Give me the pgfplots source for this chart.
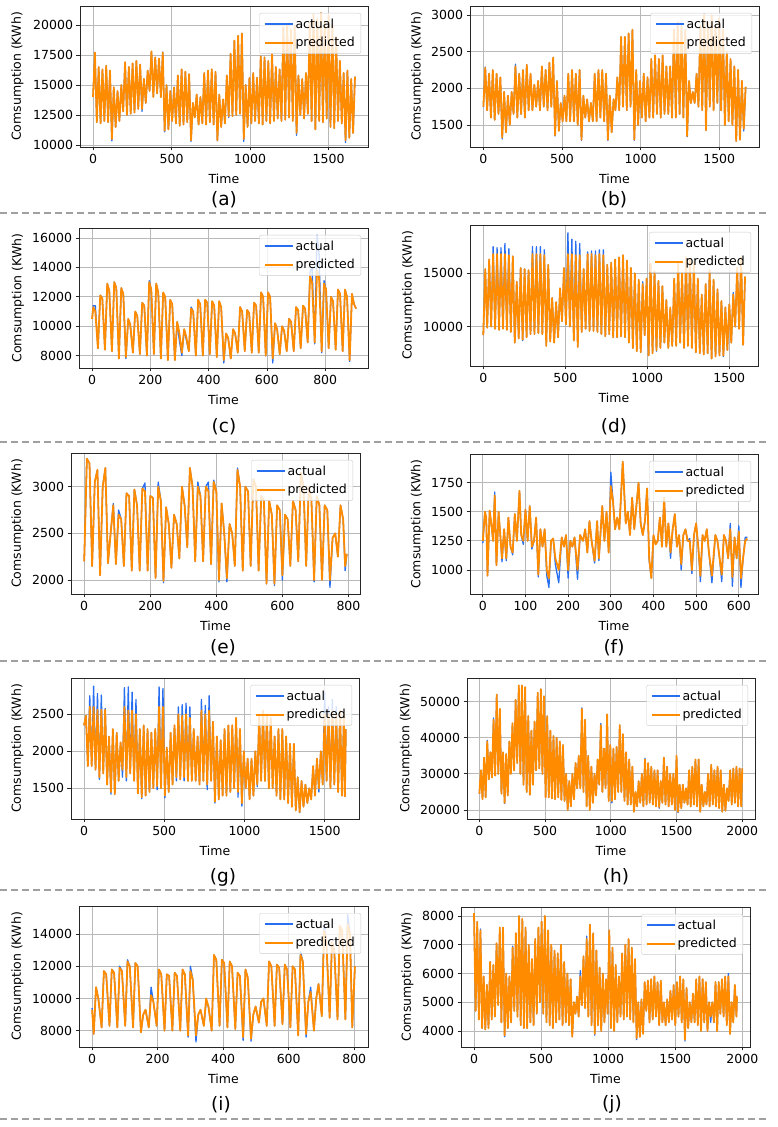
\documentclass[border=0pt]{standalone}
\usepackage{fontspec}
\setmainfont{DejaVu Sans}
\usepackage{pgfplots}
\usepackage{pgfplotstable}
\pgfplotsset{compat=1.18}

\definecolor{cblue}{RGB}{40,110,240}
\definecolor{corange}{RGB}{255,140,0}
\definecolor{sepgray}{RGB}{160,160,160}
\newcommand{\fs}{\fontsize{12.5}{15}\selectfont}
\newcommand{\capfs}{\fontsize{18.5}{22}\selectfont}

\pgfplotsset{
  panel/.style={
    scale only axis, anchor=south west,
    axis line style={draw=black!85, line width=0.8pt},
    tick align=outside, xtick pos=bottom, ytick pos=left,
    major tick length=3.5pt,
    tick style={black!85, line width=0.8pt},
    grid=major, major grid style={line width=0.8pt, draw=black!28},
    tick label style={font=\fs},
    label style={font=\fs},
    scaled ticks=false,
    /pgf/number format/1000 sep={},
    /pgf/number format/assume math mode=true,
    xlabel=Time, ylabel={Comsumption (KWh)},
    xlabel style={at={(axis description cs:0.5,-0.227)}, anchor=center},
    legend style={at={(1,1)}, anchor=north east, xshift=-7pt, yshift=-7pt,
      draw=black!20, rounded corners=2pt, fill=white, fill opacity=0.8,
      text opacity=1, font=\fs, inner xsep=4pt, inner ysep=3.5pt, row sep=3.5pt},
    legend image code/.code={\draw[#1, line width=2pt, line cap=butt] (0pt,0pt) -- (28pt,0pt);},
    legend cell align=left,
  },
  act/.style={draw=cblue, line width=1.3pt, line join=round},
  pre/.style={draw=corange, line width=1.8pt, line join=round},
}

% (a)
\pgfplotstableread[row sep=\\]{
x a p\\
0 14000 14000\\ 12 17700 17700\\ 24 11900 11900\\ 36 16500 16500\\
48 11800 11800\\ 60 16300 16300\\ 72 12000 12000\\ 84 16600 16600\\
96 11900 11900\\ 108 16200 16200\\ 120 10350 10500\\ 132 14800 14800\\
144 11500 11500\\ 156 14500 14500\\ 168 12000 12000\\ 180 15000 15000\\
192 12800 12800\\ 204 16900 16900\\ 216 12500 12500\\ 228 16500 16500\\
240 12600 12600\\ 252 16800 16800\\ 264 12700 12700\\ 276 17000 17000\\
288 13000 13000\\ 300 16700 16700\\ 312 12800 13000\\ 324 15500 15500\\
336 13500 13500\\ 348 16200 16200\\ 360 14500 14500\\ 372 17800 17800\\
384 14000 14000\\ 396 17300 17300\\ 408 14300 14300\\ 420 17200 17200\\
432 14000 14000\\ 444 17750 17700\\ 456 11100 11200\\ 468 15000 15000\\
480 11300 11300\\ 492 14500 14500\\ 504 12000 12000\\ 516 14800 14800\\
528 11800 11800\\ 540 15800 15800\\ 552 11600 11600\\ 564 16300 16300\\
576 11700 11700\\ 588 16100 16100\\ 600 11900 11900\\ 612 15900 15900\\
624 10300 10400\\ 636 13500 13500\\ 648 12300 12300\\ 660 14200 14200\\
672 11700 11700\\ 684 14000 14000\\ 696 11800 11800\\ 708 16000 16000\\
720 11700 11700\\ 732 16200 16200\\ 744 11900 11900\\ 756 16300 16300\\
768 11700 11700\\ 780 16100 16100\\ 792 10350 10400\\ 804 14200 14200\\
816 11500 11500\\ 828 13800 13800\\ 840 11800 11800\\ 852 15800 15800\\
864 12300 12400\\ 876 17600 17600\\ 888 12400 12400\\ 900 18700 18700\\
912 12500 12500\\ 924 19100 19100\\ 936 12600 12600\\ 948 19300 19300\\
960 10300 10500\\ 972 15000 15000\\ 984 11500 11500\\ 996 15600 15600\\
1008 11800 11800\\ 1020 16000 16000\\ 1032 12000 12000\\ 1044 15600 15600\\
1056 11800 11800\\ 1068 17400 17400\\ 1080 11700 11700\\ 1092 17300 17300\\
1104 12000 12000\\ 1116 17000 17000\\ 1128 11800 11800\\ 1140 17600 17600\\
1152 12000 12000\\ 1164 16500 16500\\ 1176 12200 12200\\ 1188 16300 16300\\
1200 12000 12000\\ 1212 19800 19800\\ 1224 12100 12100\\ 1236 20000 20000\\
1248 12300 12300\\ 1260 19600 19600\\ 1272 12000 12000\\ 1284 19900 19900\\
1296 10800 11000\\ 1308 15800 15800\\ 1320 12500 12500\\ 1332 15500 15500\\
1344 12200 12200\\ 1356 16000 16000\\ 1368 12600 12600\\ 1380 20200 20200\\
1392 12000 12000\\ 1404 20900 20900\\ 1416 11300 11300\\ 1428 20500 20500\\
1440 12000 12000\\ 1452 21000 21000\\ 1464 11900 11900\\ 1476 20300 20300\\
1488 12200 12200\\ 1500 20800 20800\\ 1512 11500 11500\\ 1524 20000 20000\\
1536 11400 11400\\ 1548 19000 19000\\ 1560 12000 12000\\ 1572 17000 17000\\
1584 11800 11800\\ 1596 16000 16000\\ 1608 10200 10400\\ 1620 16200 16200\\
1632 10600 10600\\ 1644 15500 15500\\ 1656 11000 11000\\ 1668 15700 15700\\
}\tA

% (b)
\pgfplotstableread[row sep=\\]{
x a p\\
0 1750 1750\\ 12 2290 2280\\ 24 1700 1700\\ 36 2200 2200\\
48 1600 1600\\ 60 2250 2250\\ 72 1570 1570\\ 84 2200 2200\\
96 1650 1650\\ 108 2150 2150\\ 120 1310 1330\\ 132 1950 1950\\
144 1400 1400\\ 156 1900 1900\\ 168 1500 1500\\ 180 1950 1950\\
192 1650 1650\\ 204 2330 2300\\ 216 1600 1600\\ 228 2200 2200\\
240 1650 1650\\ 252 2250 2250\\ 264 1600 1600\\ 276 2320 2320\\
288 1700 1700\\ 300 2200 2200\\ 312 1700 1700\\ 324 2050 2050\\
336 1750 1750\\ 348 2100 2100\\ 360 1700 1700\\ 372 2300 2300\\
384 1750 1750\\ 396 2250 2250\\ 408 1700 1700\\ 420 2350 2350\\
432 1750 1750\\ 444 2420 2420\\ 456 1350 1360\\ 468 2100 2100\\
480 1420 1420\\ 492 1800 1800\\ 504 1550 1550\\ 516 1900 1900\\
528 1550 1550\\ 540 2200 2200\\ 552 1550 1550\\ 564 2250 2250\\
576 1550 1550\\ 588 2200 2200\\ 600 1500 1500\\ 612 2250 2250\\
624 1290 1300\\ 636 1900 1900\\ 648 1600 1600\\ 660 1850 1850\\
672 1550 1550\\ 684 1800 1800\\ 696 1550 1550\\ 708 2200 2200\\
720 1550 1550\\ 732 2250 2250\\ 744 1600 1600\\ 756 2250 2250\\
768 1550 1550\\ 780 2200 2200\\ 792 1290 1300\\ 804 1900 1900\\
816 1400 1400\\ 828 1850 1850\\ 840 1700 1700\\ 852 2150 2150\\
864 1700 1700\\ 876 2700 2700\\ 888 1750 1750\\ 900 2700 2700\\
912 1700 1700\\ 924 2750 2750\\ 936 1750 1750\\ 948 2800 2800\\
960 1290 1300\\ 972 2250 2250\\ 984 1500 1500\\ 996 2100 2100\\
1008 1600 1600\\ 1020 2200 2200\\ 1032 1550 1550\\ 1044 2150 2150\\
1056 1600 1600\\ 1068 2400 2400\\ 1080 1600 1600\\ 1092 2450 2450\\
1104 1650 1650\\ 1116 2400 2400\\ 1128 1600 1600\\ 1140 2450 2450\\
1152 1650 1650\\ 1164 2300 2300\\ 1176 1650 1650\\ 1188 2300 2300\\
1200 1600 1600\\ 1212 2800 2800\\ 1224 1600 1600\\ 1236 2900 2900\\
1248 1650 1650\\ 1260 2850 2850\\ 1272 1600 1600\\ 1284 2800 2800\\
1296 1340 1350\\ 1308 2100 2100\\ 1320 1800 1800\\ 1332 1950 1950\\
1344 1800 1800\\ 1356 2200 2200\\ 1368 1750 1750\\ 1380 2850 2850\\
1392 1700 1700\\ 1404 3020 3000\\ 1416 1430 1430\\ 1428 2900 2900\\
1440 1750 1750\\ 1452 3000 3000\\ 1464 1700 1700\\ 1476 2850 2850\\
1488 1800 1800\\ 1500 2950 2950\\ 1512 1700 1700\\ 1524 2800 2800\\
1536 1500 1500\\ 1548 2500 2500\\ 1560 1550 1550\\ 1572 2400 2400\\
1584 1500 1500\\ 1596 2300 2300\\ 1608 1280 1280\\ 1620 2250 2250\\
1632 1300 1300\\ 1644 2100 2100\\ 1656 1420 1450\\ 1668 2020 2020\\
}\tB

% (c)
\pgfplotstableread[row sep=\\]{
x a p\\
0 10500 10500\\ 4 11400 11300\\ 11 11400 11000\\
20 8500 8500\\ 28 12100 12100\\ 35 11900 11900\\
44 8400 8400\\ 52 12900 12900\\ 59 12400 12400\\
68 8300 8300\\ 76 13000 13000\\ 83 12600 12600\\
92 7800 7800\\ 100 12600 12600\\ 107 12200 12200\\
116 7800 7900\\ 124 10500 10500\\ 131 10100 10100\\
140 8200 8200\\ 148 11000 11000\\ 155 10700 10700\\
164 8100 8100\\ 172 11600 11600\\ 179 11400 11400\\
188 8000 8000\\ 196 13100 13000\\ 203 12500 12500\\
212 8100 8100\\ 220 12900 12900\\ 227 12300 12300\\
236 7800 7800\\ 244 12300 12300\\ 251 11900 12000\\
260 7700 7700\\ 268 11800 11800\\ 275 11500 11500\\
284 7700 7700\\ 292 10300 10300\\ 299 9100 9600\\
308 8000 8200\\ 316 9800 9800\\ 323 9100 9300\\
332 8300 8300\\ 340 11300 11200\\ 347 11000 11000\\
356 8000 8000\\ 364 11800 11800\\ 371 11500 11500\\
380 8000 8000\\ 388 11800 11800\\ 395 11600 11600\\
404 8100 8100\\ 412 11700 11700\\ 419 11400 11400\\
428 7900 7900\\ 436 11700 11700\\ 443 11300 11300\\
452 7500 7700\\ 460 9500 9500\\ 467 9200 9200\\
476 7800 7800\\ 484 9800 9800\\ 491 9500 9500\\
500 8200 8200\\ 508 11300 11300\\ 515 11000 11000\\
524 8300 8300\\ 532 11100 11100\\ 539 10900 10900\\
548 8200 8200\\ 556 11600 11600\\ 563 11400 11400\\
572 8200 8200\\ 580 12300 12300\\ 587 12000 12000\\
596 8000 8000\\ 604 12300 12300\\ 611 12000 12000\\
620 7500 7800\\ 628 10200 10200\\ 635 9800 9800\\
644 8100 8100\\ 652 10000 10000\\ 659 9700 9700\\
668 8300 8300\\ 676 10500 10500\\ 683 10300 10300\\
692 8300 8300\\ 700 11300 11300\\ 707 11100 11100\\
716 8500 8500\\ 724 11400 11400\\ 731 11200 11200\\
740 8900 8900\\ 748 13700 13400\\ 755 14000 13000\\
764 8800 8900\\ 772 16200 13800\\ 779 15000 13300\\
788 8200 8300\\ 796 13100 12900\\ 803 12500 12500\\
812 8500 8500\\ 820 12000 12000\\ 827 11700 11700\\
836 8400 8400\\ 844 12500 12500\\ 851 12200 12200\\
860 8300 8300\\ 868 12500 12500\\ 875 12000 12000\\
884 7600 7700\\ 892 12200 12200\\ 899 11500 11500\\
906 11200 11200\\
}\tC

% (d)
\pgfplotstableread[row sep=\\]{
x a p\\
0 9200 9200\\ 12 15400 15400\\ 24 9900 9900\\ 36 16300 16300\\
48 10000 10000\\ 60 17500 16800\\ 72 9800 9800\\ 84 17400 16800\\
96 9700 9700\\ 108 17400 16800\\ 120 9800 9800\\ 132 17800 16800\\
144 9700 9700\\ 156 17300 16700\\ 168 9500 9500\\ 180 16600 16600\\
192 8500 8500\\ 204 14200 14200\\ 216 8900 8900\\ 228 15500 15500\\
240 8700 8800\\ 252 15400 15400\\ 264 9000 9000\\ 276 15300 15300\\
288 9300 9300\\ 300 17500 16800\\ 312 9300 9300\\ 324 17500 16800\\
336 9400 9400\\ 348 17500 16800\\ 360 9300 9300\\ 372 17200 16700\\
384 8200 8200\\ 396 15800 15800\\ 408 8600 8600\\ 420 12700 12700\\
432 8500 8500\\ 444 12300 12300\\ 456 9000 9000\\ 468 13600 13600\\
480 10500 10500\\ 492 15500 15500\\ 504 10200 10200\\ 516 18800 16800\\
528 10000 10000\\ 540 18200 16800\\ 552 8700 8700\\ 564 18000 16700\\
576 8100 8100\\ 588 17800 16700\\ 600 9500 9500\\ 612 15400 15400\\
624 9800 9800\\ 636 17000 16800\\ 648 9600 9600\\ 660 17100 16800\\
672 9600 9600\\ 684 17100 16700\\ 696 9500 9500\\ 708 17200 16800\\
720 9300 9300\\ 732 17200 16700\\ 744 9100 9100\\ 756 15800 15800\\
768 9300 9300\\ 780 16000 16000\\ 792 9000 9000\\ 804 16300 16300\\
816 9000 9000\\ 828 16500 16500\\ 840 9100 9100\\ 852 16700 16700\\
864 9000 9000\\ 876 16200 16200\\ 888 8500 8500\\ 900 15500 15500\\
912 8000 8000\\ 924 15000 15000\\ 936 7700 7700\\ 948 14400 14400\\
960 7600 7600\\ 972 14200 14000\\ 984 9200 9200\\ 996 14500 14500\\
1008 7300 7300\\ 1020 15900 15900\\ 1032 7500 7500\\ 1044 15200 15200\\
1056 7700 7800\\ 1068 14300 14300\\ 1080 8000 8000\\ 1092 13800 13800\\
1104 8500 8500\\ 1116 12500 12500\\ 1128 8000 8000\\ 1140 11600 11800\\
1152 8200 8200\\ 1164 14500 14500\\ 1176 8200 8200\\ 1188 16000 16000\\
1200 8500 8500\\ 1212 15000 15000\\ 1224 8000 8000\\ 1236 16500 16500\\
1248 8200 8200\\ 1260 16300 16300\\ 1272 8000 8000\\ 1284 16000 16000\\
1296 7600 7600\\ 1308 14500 14500\\ 1320 7500 7500\\ 1332 13000 13000\\
1344 7400 7400\\ 1356 14000 14000\\ 1368 7500 7500\\ 1380 15300 15300\\
1392 7000 7000\\ 1404 14400 14400\\ 1416 7200 7200\\ 1428 13500 13500\\
1440 7300 7300\\ 1452 12400 12400\\ 1464 7200 7300\\ 1476 11800 11800\\
1488 7800 7800\\ 1500 12100 12100\\ 1512 8500 8500\\ 1524 13200 13000\\
1536 10000 10000\\ 1548 15500 15500\\ 1560 9800 9800\\ 1572 16500 16500\\
1584 8300 8300\\ 1596 14700 14700\\
}\tD

% (e)
\pgfplotstableread[row sep=\\]{
x a p\\
0 2200 2200\\ 8 3300 3300\\ 16 3250 3250\\
24 2150 2150\\ 32 3050 3050\\ 40 3180 3180\\
48 2050 2050\\ 56 3000 3000\\ 64 3200 3200\\
72 2180 2180\\ 80 2500 2500\\ 88 2820 2800\\
96 2170 2170\\ 104 2750 2700\\ 112 2650 2650\\
120 2150 2150\\ 128 2930 2930\\ 136 2900 2900\\
144 2100 2100\\ 152 2970 2970\\ 160 2800 2800\\
168 2100 2100\\ 176 2980 2980\\ 184 3040 2950\\
192 2100 2100\\ 200 2900 2900\\ 208 2880 2880\\
216 2020 2020\\ 224 3050 3000\\ 232 2850 2850\\
240 1970 1990\\ 248 2780 2780\\ 256 2600 2600\\
264 2130 2130\\ 272 2700 2700\\ 280 2600 2600\\
288 2230 2230\\ 296 3000 3000\\ 304 2800 2800\\
312 2350 2350\\ 320 3200 3200\\ 328 3000 3000\\
336 2200 2200\\ 344 3050 3000\\ 352 2900 2900\\
360 2200 2200\\ 368 3000 3000\\ 376 3050 2950\\
384 2170 2170\\ 392 3070 3050\\ 400 2950 2950\\
408 1980 2000\\ 416 2820 2820\\ 424 2500 2500\\
432 1980 2020\\ 440 2600 2600\\ 448 2500 2500\\
456 2150 2150\\ 464 3200 3180\\ 472 3000 3000\\
480 2100 2100\\ 488 3000 3000\\ 496 2950 2950\\
504 2150 2150\\ 512 3080 3080\\ 520 3000 3000\\
528 2100 2100\\ 536 2900 2900\\ 544 2850 2850\\
552 1960 1960\\ 560 2850 2850\\ 568 2700 2700\\
576 1940 1960\\ 584 2800 2800\\ 592 2750 2750\\
600 2000 2050\\ 608 2700 2700\\ 616 2650 2650\\
624 2150 2150\\ 632 2850 2850\\ 640 2750 2750\\
648 2200 2200\\ 656 3150 3150\\ 664 3000 3000\\
672 2150 2150\\ 680 3000 3000\\ 688 2850 2850\\
696 1980 2000\\ 704 2900 2900\\ 712 2800 2800\\
720 2000 2000\\ 728 2800 2800\\ 736 2750 2750\\
744 1920 2000\\ 752 2450 2450\\ 760 2500 2500\\
768 2250 2250\\ 776 2800 2800\\ 784 2650 2650\\
790 2100 2150\\ 795 2280 2280\\
}\tE

% (f)
\pgfplotstableread[row sep=\\]{
x a p\\
0 1230 1250\\ 5 1500 1500\\ 8 1450 1450\\ 11 950 950\\ 16 1500 1510\\
20 1400 1400\\ 24 1250 1250\\ 28 1670 1640\\ 32 1040 1040\\ 37 1500 1500\\
41 1300 1300\\ 45 1070 1100\\ 50 1350 1350\\ 55 1080 1100\\ 60 1450 1450\\
65 1200 1200\\ 70 1130 1150\\ 75 1480 1480\\ 80 1250 1250\\ 86 1680 1680\\
90 1300 1300\\ 95 1220 1250\\ 100 1520 1520\\ 105 1250 1250\\ 110 1550 1550\\
115 1180 1200\\ 120 1250 1250\\ 125 1450 1450\\ 130 940 960\\ 135 1350 1350\\
140 1200 1200\\ 145 1350 1350\\ 150 950 1000\\ 155 850 930\\ 160 1250 1250\\
165 1270 1270\\ 170 1050 1100\\ 178 890 1000\\ 185 1280 1280\\ 190 1200 1200\\
195 1300 1300\\ 200 930 1000\\ 205 1250 1250\\ 210 1200 1200\\ 215 1280 1280\\
222 920 1000\\ 228 1300 1300\\ 235 1250 1250\\ 240 1350 1350\\ 245 1150 1150\\
250 1420 1420\\ 255 1250 1250\\ 262 1060 1080\\ 268 1420 1420\\ 272 1080 1100\\
280 1550 1550\\ 285 1250 1250\\ 290 1500 1500\\ 295 1150 1150\\ 300 1840 1720\\
305 1600 1600\\ 310 1350 1350\\ 315 1450 1450\\ 320 1350 1350\\ 328 1930 1930\\
335 1400 1400\\ 340 1500 1500\\ 345 1300 1300\\ 350 1620 1620\\ 355 1350 1350\\
360 1550 1550\\ 365 1750 1750\\ 370 1400 1400\\ 375 1300 1300\\ 380 1420 1420\\
385 1700 1700\\ 390 1080 1100\\ 395 930 930\\ 400 1300 1300\\ 405 1220 1220\\
410 1250 1250\\ 415 1450 1450\\ 420 1200 1200\\ 425 1620 1620\\ 430 1200 1200\\
435 1400 1400\\ 440 1100 1150\\ 445 1350 1350\\ 450 1480 1480\\ 455 1200 1200\\
460 1300 1300\\ 465 1000 1050\\ 470 1300 1300\\ 475 1350 1350\\ 480 1250 1250\\
485 1270 1250\\ 490 970 1000\\ 495 1300 1300\\ 500 1400 1400\\ 505 1200 1200\\
510 900 950\\ 515 1300 1300\\ 520 1250 1250\\ 525 1350 1350\\ 530 1150 1150\\
537 890 950\\ 545 1300 1300\\ 550 1250 1250\\ 555 1100 1100\\ 560 900 960\\
565 1300 1300\\ 570 1250 1250\\ 575 1100 1100\\ 580 1400 1350\\ 585 860 940\\
590 1280 1280\\ 595 1100 1100\\ 600 1380 1330\\ 605 850 930\\ 610 1100 1100\\
615 1280 1250\\ 620 1280 1270\\
}\tF

% (g)
\pgfplotstableread[row sep=\\]{
x a p\\
0 2350 2350\\ 12 2480 2480\\ 24 1800 1800\\ 36 2750 2600\\
48 1800 1800\\ 60 2880 2600\\ 72 1750 1750\\ 84 2780 2560\\
96 1620 1650\\ 108 2760 2560\\ 120 1700 1700\\ 132 2580 2560\\
144 1550 1550\\ 156 2200 2200\\ 168 1420 1450\\ 180 2300 2300\\
192 1420 1420\\ 204 2250 2250\\ 216 1600 1600\\ 228 2120 2120\\
240 1650 1750\\ 252 2860 2600\\ 264 1600 1650\\ 276 2870 2550\\
288 1700 1700\\ 300 2800 2550\\ 312 1600 1600\\ 324 2700 2500\\
336 1430 1430\\ 348 2300 2300\\ 360 1360 1380\\ 372 2350 2350\\
384 1400 1400\\ 396 2300 2300\\ 408 1450 1450\\ 420 2250 2250\\
432 1500 1500\\ 444 2300 2300\\ 456 1480 1530\\ 468 2870 2600\\
480 1500 1500\\ 492 2850 2600\\ 504 1370 1400\\ 516 2050 2050\\
528 1450 1450\\ 540 2250 2250\\ 552 1550 1550\\ 564 2350 2350\\
576 1600 1650\\ 588 2600 2500\\ 600 1620 1620\\ 612 2630 2480\\
624 1600 1650\\ 636 2650 2500\\ 648 1600 1600\\ 660 2600 2450\\
672 1600 1600\\ 684 2300 2300\\ 696 1600 1600\\ 708 2200 2200\\
720 1550 1550\\ 732 2700 2550\\ 744 1600 1600\\ 756 2620 2500\\
768 1480 1550\\ 780 2750 2550\\ 792 1600 1600\\ 804 2400 2400\\
816 1300 1320\\ 828 2200 2200\\ 840 1350 1350\\ 852 2150 2150\\
864 1400 1400\\ 876 2300 2300\\ 888 1400 1400\\ 900 2350 2350\\
912 1450 1450\\ 924 2350 2350\\ 936 1500 1500\\ 948 2450 2450\\
960 1380 1450\\ 972 2300 2300\\ 984 1260 1300\\ 996 2000 2000\\
1008 1500 1500\\ 1020 1900 1900\\ 1032 1350 1350\\ 1044 1900 1900\\
1056 1400 1400\\ 1068 2000 2000\\ 1080 1520 1550\\ 1092 2500 2500\\
1104 1600 1600\\ 1116 2550 2550\\ 1128 1600 1600\\ 1140 2500 2500\\
1152 1500 1500\\ 1164 2450 2450\\ 1176 1500 1500\\ 1188 2200 2200\\
1200 1400 1400\\ 1212 2300 2300\\ 1224 1350 1350\\ 1236 2300 2300\\
1248 1350 1350\\ 1260 2200 2200\\ 1272 1300 1300\\ 1284 2100 2100\\
1296 1250 1250\\ 1308 2100 2100\\ 1320 1200 1200\\ 1332 1650 1650\\
1344 1170 1180\\ 1356 1600 1600\\ 1368 1250 1250\\ 1380 1550 1550\\
1392 1300 1300\\ 1404 1500 1500\\ 1416 1350 1350\\ 1428 1800 1800\\
1440 1400 1400\\ 1452 1900 1900\\ 1464 1450 1500\\ 1476 2000 2000\\
1488 1550 1550\\ 1500 2800 2500\\ 1512 1600 1600\\ 1524 2600 2500\\
1536 1500 1500\\ 1548 2700 2550\\ 1560 1550 1550\\ 1572 2600 2500\\
1584 1450 1450\\ 1596 2550 2550\\ 1608 1400 1400\\ 1620 2500 2500\\
1626 1390 1390\\ 1632 2300 2300\\
}\tG

% (h)
\pgfplotstableread[row sep=\\]{
x a p\\
0 24500 24500\\ 12 31000 31000\\ 24 23000 23000\\ 36 34500 34500\\
48 23500 23500\\ 60 39300 39000\\ 72 28500 28500\\ 84 36000 36000\\
96 29000 29000\\ 108 45500 45000\\ 120 29500 29500\\ 132 52000 52000\\
144 30000 30000\\ 156 48000 48000\\ 168 24500 24500\\ 180 36000 36000\\
192 21800 22000\\ 204 35500 35500\\ 216 24000 24000\\ 228 39000 39000\\
240 30000 30000\\ 252 44000 44000\\ 264 31000 31000\\ 276 50500 50500\\
288 33000 33000\\ 300 54500 54500\\ 312 30000 30000\\ 324 54500 54500\\
336 27000 27000\\ 348 54000 54000\\ 360 25000 25000\\ 372 46000 46000\\
384 24200 24200\\ 396 42000 42000\\ 408 27000 27000\\ 420 44500 44500\\
432 31000 31000\\ 444 52500 52500\\ 456 31500 31500\\ 468 53500 53500\\
480 30000 30000\\ 492 51500 51500\\ 504 23500 23500\\ 516 46000 46000\\
528 23500 23500\\ 540 42000 42000\\ 552 23200 23200\\ 564 40500 40500\\
576 23000 23000\\ 588 40000 40000\\ 600 23500 23500\\ 612 39000 39000\\
624 22800 22800\\ 636 38000 38000\\ 648 22500 22500\\ 660 30000 30000\\
672 20000 20000\\ 684 28000 28000\\ 696 21000 21000\\ 708 30000 30000\\
720 23000 23000\\ 732 33000 33000\\ 744 26000 26000\\ 756 35000 35000\\
768 26000 26000\\ 780 48300 48000\\ 792 25000 25000\\ 804 45000 45000\\
816 21000 21000\\ 828 35000 35000\\ 840 20000 20000\\ 852 32000 32000\\
864 22000 22000\\ 876 30000 30000\\ 888 24000 24000\\ 900 34000 34000\\
912 27000 27000\\ 924 44000 43500\\ 936 25000 25000\\ 948 37000 37000\\
960 26000 26000\\ 972 46500 46500\\ 984 22500 22500\\ 996 38000 38000\\
1008 22000 22500\\ 1020 37000 37000\\ 1032 23000 23000\\ 1044 37500 37500\\
1056 25000 25000\\ 1068 43500 43500\\ 1080 25000 25000\\ 1092 41000 41000\\
1104 22500 22500\\ 1116 36000 36000\\ 1128 21500 21500\\ 1140 34000 34000\\
1152 21500 21500\\ 1164 32000 32000\\ 1176 19500 19500\\ 1188 25000 25000\\
1200 21000 21000\\ 1212 28000 28000\\ 1224 22000 22000\\ 1236 30000 30000\\
1248 21000 21000\\ 1260 34300 34000\\ 1272 21500 21500\\ 1284 33000 33000\\
1296 22000 22000\\ 1308 32000 32000\\ 1320 21500 21500\\ 1332 31000 31000\\
1344 21000 21000\\ 1356 31000 31000\\ 1368 20500 20800\\ 1380 28000 28000\\
1392 22000 22000\\ 1404 34500 34500\\ 1416 21500 21500\\ 1428 32000 32000\\
1440 21000 21000\\ 1452 30000 30000\\ 1464 21500 21500\\ 1476 30000 30000\\
1488 20000 20000\\ 1500 35000 35000\\ 1512 19300 19500\\ 1524 27000 27000\\
1536 20500 20500\\ 1548 27000 27000\\ 1560 22000 22000\\ 1572 26000 26000\\
1584 21500 21500\\ 1596 31000 31000\\ 1608 21000 21000\\ 1620 32000 32000\\
1632 21500 21500\\ 1644 34000 34000\\ 1656 21000 21000\\ 1668 34000 34000\\
1680 19500 19500\\ 1692 27000 27000\\ 1704 21000 21000\\ 1716 25000 25000\\
1728 21500 21500\\ 1740 30000 30000\\ 1752 21000 21000\\ 1764 32500 32500\\
1776 21500 21500\\ 1788 31000 31000\\ 1800 21000 21000\\ 1812 32000 32000\\
1824 20500 20500\\ 1836 31000 31000\\ 1848 19500 19500\\ 1860 27000 27000\\
1872 19800 19800\\ 1884 26000 26000\\ 1896 22500 22500\\ 1908 31000 31000\\
1920 21500 21500\\ 1932 31500 31500\\ 1944 22000 22000\\ 1956 32000 32000\\
1968 21000 21000\\ 1980 31500 31500\\ 1992 21000 21000\\ 2000 31500 31500\\
}\tH

% (i)
\pgfplotstableread[row sep=\\]{
x a p\\
0 9400 9300\\ 5 7800 7800\\ 12 10700 10700\\ 19 10000 10000\\
29 8200 8200\\ 36 11700 11700\\ 43 11500 11500\\
53 8300 8300\\ 60 11800 11800\\ 67 11600 11600\\
77 8200 8200\\ 84 12000 11900\\ 91 11700 11700\\
101 8300 8300\\ 108 12400 12300\\ 115 12000 12000\\
125 8200 8200\\ 132 12200 12200\\ 139 12000 12000\\
149 7900 7900\\ 156 9000 9000\\ 163 9300 9300\\
173 8200 8200\\ 180 10700 10200\\ 187 9800 9800\\
197 8300 8300\\ 204 11800 11800\\ 211 11500 11500\\
221 8000 8000\\ 228 11500 11500\\ 235 11400 11400\\
245 8000 8000\\ 252 11600 11600\\ 259 11400 11400\\
269 8000 8000\\ 276 11800 11800\\ 283 11500 11500\\
293 7600 7700\\ 300 12000 11700\\ 307 11200 11200\\
317 7300 7700\\ 324 9000 9000\\ 331 9300 9300\\
341 8300 8300\\ 348 9800 10000\\ 355 9500 9500\\
365 8000 8000\\ 372 12700 12700\\ 379 12400 12400\\
389 8300 8300\\ 396 12400 12400\\ 403 12200 12200\\
413 8200 8200\\ 420 12300 12300\\ 427 12000 12000\\
437 8100 8100\\ 444 11600 11600\\ 451 11400 11400\\
461 7400 7600\\ 468 11800 11800\\ 475 11300 11300\\
485 7350 7500\\ 492 9000 9000\\ 499 9500 9500\\
509 8500 8500\\ 516 9800 9800\\ 523 10000 10000\\
533 8300 8300\\ 540 12300 12300\\ 547 12000 12000\\
557 8300 8300\\ 564 12100 12100\\ 571 11900 11900\\
581 8400 8400\\ 588 12100 12100\\ 595 11800 11800\\
605 8200 8200\\ 612 12000 12000\\ 619 11800 11800\\
629 7700 7700\\ 636 12900 12700\\ 643 12300 12300\\
653 7600 7800\\ 660 9800 9800\\ 667 10700 10400\\
677 8000 8000\\ 684 10000 10000\\ 691 10900 10900\\
701 8900 8900\\ 708 14500 14200\\ 715 13500 13500\\
725 8800 8800\\ 732 13500 13500\\ 739 13000 13000\\
749 8700 8700\\ 756 14500 14500\\ 763 14200 14200\\
773 8700 8700\\ 780 15200 14600\\ 787 14000 14000\\
794 8200 8200\\ 802 12000 12000\\
}\tI

% (j)
\pgfplotstableread[row sep=\\]{
x a p\\
0 8100 8100\\ 12 4700 4700\\ 24 7800 7800\\ 36 4400 4400\\
48 7550 7500\\ 60 4100 4100\\ 72 5900 5900\\ 84 4050 4050\\
96 5600 5600\\ 108 4100 4100\\ 120 6400 6400\\ 132 4400 4400\\
144 6300 6300\\ 156 4500 4500\\ 168 7050 7050\\ 180 4900 4900\\
192 7600 7600\\ 204 4300 4300\\ 216 7600 7600\\ 228 3800 3850\\
240 6000 6000\\ 252 4100 4100\\ 264 5900 5900\\ 276 4300 4300\\
288 6950 6900\\ 300 4700 4700\\ 312 7400 7400\\ 324 4500 4500\\
336 8000 8000\\ 348 4200 4200\\ 360 7900 7900\\ 372 4100 4100\\
384 7600 7600\\ 396 4100 4100\\ 408 7000 7000\\ 420 4300 4300\\
432 6500 6500\\ 444 4200 4200\\ 456 7200 7200\\ 468 4600 4600\\
480 7600 7600\\ 492 5050 5000\\ 504 7800 7800\\ 516 4600 4600\\
528 8000 8000\\ 540 4300 4300\\ 552 7500 7500\\ 564 4200 4200\\
576 7000 7000\\ 588 4100 4100\\ 600 6800 6800\\ 612 4300 4300\\
624 6700 6700\\ 636 4400 4400\\ 648 7000 7000\\ 660 4200 4200\\
672 6400 6400\\ 684 4300 4300\\ 696 6000 6000\\ 708 4200 4200\\
720 5800 5800\\ 732 3800 3800\\ 744 5000 5000\\ 756 4600 4600\\
768 5200 5200\\ 780 4500 4500\\ 792 6100 5900\\ 804 4900 4900\\
816 6600 6600\\ 828 4800 4800\\ 840 7300 7200\\ 852 4500 4500\\
864 7700 7700\\ 876 4200 4200\\ 888 7400 7400\\ 900 3850 3900\\
912 6800 6800\\ 924 4200 4200\\ 936 6200 6200\\ 948 4000 4000\\
960 6000 6000\\ 972 4300 4300\\ 984 5800 5800\\ 996 4600 4600\\
1008 7500 7500\\ 1020 4100 4100\\ 1032 6900 6900\\ 1044 4000 4000\\
1056 6300 6300\\ 1068 4300 4300\\ 1080 5900 5900\\ 1092 4500 4500\\
1104 6700 6700\\ 1116 4400 4400\\ 1128 7000 7000\\ 1140 4500 4500\\
1152 7200 7200\\ 1164 4400 4400\\ 1176 6900 6900\\ 1188 4300 4300\\
1200 6500 6500\\ 1212 3700 3750\\ 1224 5000 5000\\ 1236 3800 3800\\
1248 5100 5100\\ 1260 3900 3900\\ 1272 5700 5700\\ 1284 4700 4700\\
1296 5750 5750\\ 1308 4300 4300\\ 1320 5800 5800\\ 1332 4400 4400\\
1344 5900 5900\\ 1356 4500 4500\\ 1368 5700 5700\\ 1380 4200 4200\\
1392 5750 5750\\ 1404 4300 4300\\ 1416 5000 5000\\ 1428 4200 4200\\
1440 5100 5100\\ 1452 4300 4300\\ 1464 5400 5400\\ 1476 4400 4400\\
1488 5600 5600\\ 1500 4200 4200\\ 1512 5700 5700\\ 1524 4500 4500\\
1536 5900 5900\\ 1548 4300 4300\\ 1560 5800 5800\\ 1572 3650 3700\\
1584 5500 5500\\ 1596 4100 4100\\ 1608 5000 5000\\ 1620 4300 4300\\
1632 5300 5300\\ 1644 4300 4300\\ 1656 5800 5800\\ 1668 4200 4200\\
1680 5900 5900\\ 1692 4000 4000\\ 1704 5800 5800\\ 1716 4300 4300\\
1728 5700 5700\\ 1740 4000 4000\\ 1752 5000 5000\\ 1764 4300 4500\\
1776 5000 5000\\ 1788 4300 4300\\ 1800 5700 5700\\ 1812 4000 4000\\
1824 5700 5700\\ 1836 4600 4600\\ 1848 5800 5800\\ 1860 4500 4500\\
1872 5900 5900\\ 1884 4200 4200\\ 1896 6000 5900\\ 1908 3900 3900\\
1920 5000 5000\\ 1932 4400 4300\\ 1944 5600 5600\\ 1956 4500 4500\\
1960 5200 5200\\
}\tJ

\begin{document}
\begin{tikzpicture}[x=1pt,y=1pt]
\path[use as bounding box] (0,0) rectangle (777,1127);

% row 1
\begin{axis}[panel, at={(80pt,980pt)}, width=288pt, height=141pt,
  xmin=-83, xmax=1751, ymin=9833, ymax=21583,
  xtick={0,500,1000,1500}, ytick={10000,12500,15000,17500,20000},
  ylabel style={at={(axis description cs:-0.217,0.5)}, anchor=center}]
\addplot[act] table[x=x,y=a] {\tA};
\addplot[pre] table[x=x,y=p] {\tA};
\legend{actual,predicted}
\end{axis}

\begin{axis}[panel, at={(470pt,980pt)}, width=289pt, height=141pt,
  xmin=-85, xmax=1753, ymin=1200, ymax=3123,
  xtick={0,500,1000,1500}, ytick={1500,2000,2500,3000},
  ylabel style={at={(axis description cs:-0.183,0.5)}, anchor=center}]
\addplot[act] table[x=x,y=a] {\tB};
\addplot[pre] table[x=x,y=p] {\tB};
\legend{actual,predicted}
\end{axis}

% row 2
\begin{axis}[panel, at={(79pt,759pt)}, width=289pt, height=140pt,
  xmin=-45, xmax=947, ymin=7158, ymax=16685,
  xtick={0,200,400,600,800}, ytick={8000,10000,12000,14000,16000},
  ylabel style={at={(axis description cs:-0.211,0.5)}, anchor=center}]
\addplot[act] table[x=x,y=a] {\tC};
\addplot[pre] table[x=x,y=p] {\tC};
\legend{actual,predicted}
\end{axis}

\begin{axis}[panel, at={(470pt,761pt)}, width=288pt, height=141pt,
  xmin=-81, xmax=1675, ymin=6313, ymax=19530,
  xtick={0,500,1000,1500}, ytick={10000,15000},
  ylabel style={at={(axis description cs:-0.215,0.5)}, anchor=center}]
\addplot[act] table[x=x,y=a] {\tD};
\addplot[pre] table[x=x,y=p] {\tD};
\legend{actual,predicted}
\end{axis}

% row 3
\begin{axis}[panel, at={(71pt,533pt)}, width=289pt, height=141pt,
  xmin=-40, xmax=835, ymin=1850, ymax=3361,
  xtick={0,200,400,600,800}, ytick={2000,2500,3000},
  ylabel style={at={(axis description cs:-0.185,0.5)}, anchor=center}]
\addplot[act] table[x=x,y=a] {\tE};
\addplot[pre] table[x=x,y=p] {\tE};
\legend{actual,predicted}
\end{axis}

\begin{axis}[panel, at={(470pt,533pt)}, width=288pt, height=140pt,
  xmin=-30, xmax=645, ymin=794, ymax=1996,
  xtick={0,100,200,300,400,500,600}, ytick={1000,1250,1500,1750},
  ylabel style={at={(axis description cs:-0.184,0.5)}, anchor=center}]
\addplot[act] table[x=x,y=a] {\tF};
\addplot[pre] table[x=x,y=p] {\tF};
\legend{actual,predicted}
\end{axis}

% row 4
\begin{axis}[panel, at={(71pt,308pt)}, width=288pt, height=141pt,
  xmin=-81, xmax=1714, ymin=1085, ymax=2990,
  xtick={0,500,1000,1500}, ytick={1500,2000,2500},
  ylabel style={at={(axis description cs:-0.186,0.5)}, anchor=center}]
\addplot[act] table[x=x,y=a] {\tG};
\addplot[pre] table[x=x,y=p] {\tG};
\legend{actual,predicted}
\end{axis}

\begin{axis}[panel, at={(467pt,308pt)}, width=288pt, height=141pt,
  xmin=-94, xmax=2097, ymin=17507, ymax=56565,
  xtick={0,500,1000,1500,2000}, ytick={20000,30000,40000,50000},
  ylabel style={at={(axis description cs:-0.212,0.5)}, anchor=center}]
\addplot[act] table[x=x,y=a] {\tH};
\addplot[pre] table[x=x,y=p] {\tH};
\legend{actual,predicted}
\end{axis}

% row 5
\begin{axis}[panel, at={(79pt,80pt)}, width=289pt, height=141pt,
  xmin=-40, xmax=842, ymin=6988, ymax=15739,
  xtick={0,200,400,600,800}, ytick={8000,10000,12000,14000},
  ylabel style={at={(axis description cs:-0.213,0.5)}, anchor=center}]
\addplot[act] table[x=x,y=a] {\tI};
\addplot[pre] table[x=x,y=p] {\tI};
\legend{actual,predicted}
\end{axis}

\begin{axis}[panel, at={(461pt,80pt)}, width=289pt, height=140pt,
  xmin=-97, xmax=2057, ymin=3443, ymax=8314,
  xtick={0,500,1000,1500,2000}, ytick={4000,5000,6000,7000,8000},
  ylabel style={at={(axis description cs:-0.185,0.5)}, anchor=center}]
\addplot[act] table[x=x,y=a] {\tJ};
\addplot[pre] table[x=x,y=p] {\tJ};
\legend{actual,predicted}
\end{axis}

% captions
\node[font=\capfs] at (224,927) {(a)};
\node[font=\capfs] at (614,927) {(b)};
\node[font=\capfs] at (224,700) {(c)};
\node[font=\capfs] at (614,700) {(d)};
\node[font=\capfs] at (223,479) {(e)};
\node[font=\capfs] at (614,479) {(f)};
\node[font=\capfs] at (223,250) {(g)};
\node[font=\capfs] at (616,250) {(h)};
\node[font=\capfs] at (221,22) {(i)};
\node[font=\capfs] at (612,23) {(j)};

% separators
\foreach \yy in {914,685,466,237,8}
  \draw[sepgray, line width=2pt, dash pattern=on 7pt off 4pt] (0,\yy) -- (768,\yy);
\end{tikzpicture}
\end{document}
